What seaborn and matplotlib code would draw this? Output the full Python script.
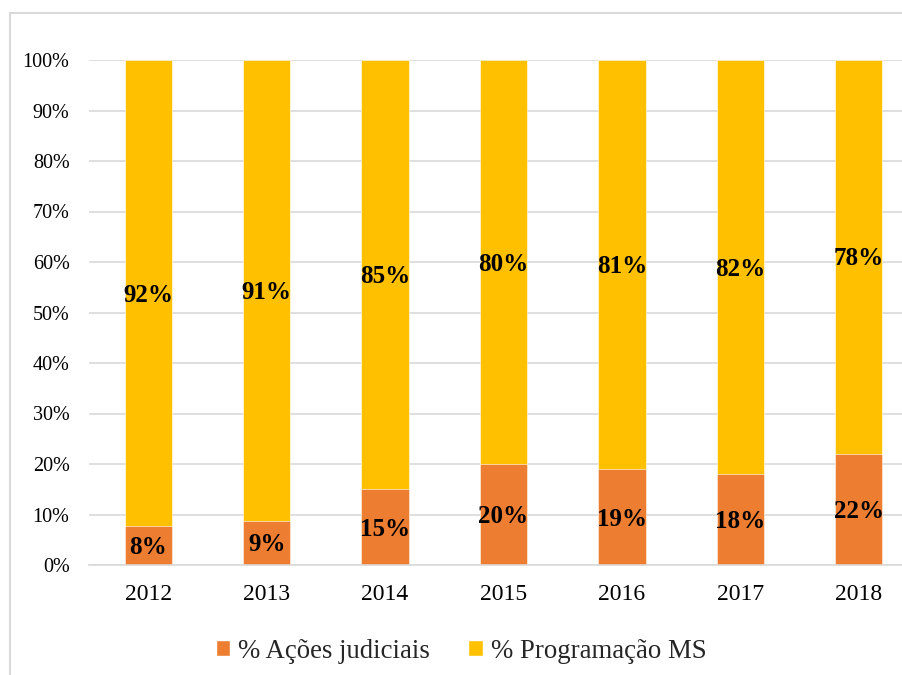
import matplotlib
matplotlib.use("Agg")
import matplotlib.pyplot as plt
import seaborn as sns
import pandas as pd
from matplotlib.lines import Line2D
from matplotlib.patches import Patch

anos = ["2012", "2013", "2014", "2015", "2016", "2017", "2018"]
acoes = [7.7, 8.8, 15.0, 20.0, 19.0, 18.0, 22.0]
programacao = [92.3, 91.2, 85.0, 80.0, 81.0, 82.0, 78.0]
yticks = [0, 10, 20, 30, 40, 50, 60, 70, 80, 90, 100]

sns.set_theme(style="white")
plt.rcParams["font.family"] = ["Liberation Serif", "DejaVu Serif"]

df = pd.DataFrame({"ano": anos, "acoes": acoes, "prog": programacao})
df["total"] = df["acoes"] + df["prog"]

fig = plt.figure(figsize=(9.02, 6.75), dpi=100)
ax = fig.add_axes([89/902, 1-565/675, 829/902, 505/675])

orange = "#ED7D31"
yellow = "#FFC000"

sns.barplot(data=df, x="ano", y="total", color=yellow, width=0.4, ax=ax,
            saturation=1, edgecolor="white", linewidth=0.4)
sns.barplot(data=df, x="ano", y="acoes", color=orange, width=0.4, ax=ax,
            saturation=1, edgecolor="white", linewidth=0.4)

bars_total = ax.containers[0]
bars_ac = ax.containers[1]
for rect, a, p in zip(bars_total, acoes, programacao):
    x = rect.get_x() + rect.get_width()/2
    ax.text(x, a + p/2 - 0.4, f"{round(p)}%", ha="center", va="center",
            fontsize=18, fontweight="bold", color="black")
for rect, a in zip(bars_ac, acoes):
    x = rect.get_x() + rect.get_width()/2
    ax.text(x, a/2 - 0.4, f"{round(a)}%", ha="center", va="center",
            fontsize=18, fontweight="bold", color="black")

ax.set_ylim(0, 100)
ax.set_xlim(-0.5, 6.5)
ax.set_yticks(yticks)
ax.set_yticklabels([f"{t}%" for t in yticks])
ax.yaxis.grid(True, color="#D9D9D9", linewidth=1.2)
ax.set_axisbelow(True)
for s in ["top", "right", "left"]:
    ax.spines[s].set_visible(False)
ax.spines["bottom"].set_color("#D9D9D9")
ax.spines["bottom"].set_linewidth(1.2)
ax.tick_params(axis="both", length=0, colors="black")
ax.tick_params(axis="y", pad=14, labelsize=14.5)
ax.tick_params(axis="x", pad=13.5, labelsize=17)
ax.set_xlabel("")
ax.set_ylabel("")

handles = [Patch(facecolor=orange, label="% Ações judiciais"),
           Patch(facecolor=yellow, label="% Programação MS")]
fig.legend(handles=handles, loc="center", bbox_to_anchor=(461/902, 1-651/675),
           ncol=2, frameon=False, fontsize=19.3, handlelength=0.55, handleheight=0.55,
           handletextpad=0.3, columnspacing=1.4)

fig.add_artist(Line2D([10/902, 10/902], [0, 1-13/675], color="#D9D9D9", linewidth=1.5,
                      transform=fig.transFigure))
fig.add_artist(Line2D([10/902, 1], [1-13/675, 1-13/675], color="#D9D9D9", linewidth=1.5,
                      transform=fig.transFigure))

fig.savefig("out.png", dpi=100)
